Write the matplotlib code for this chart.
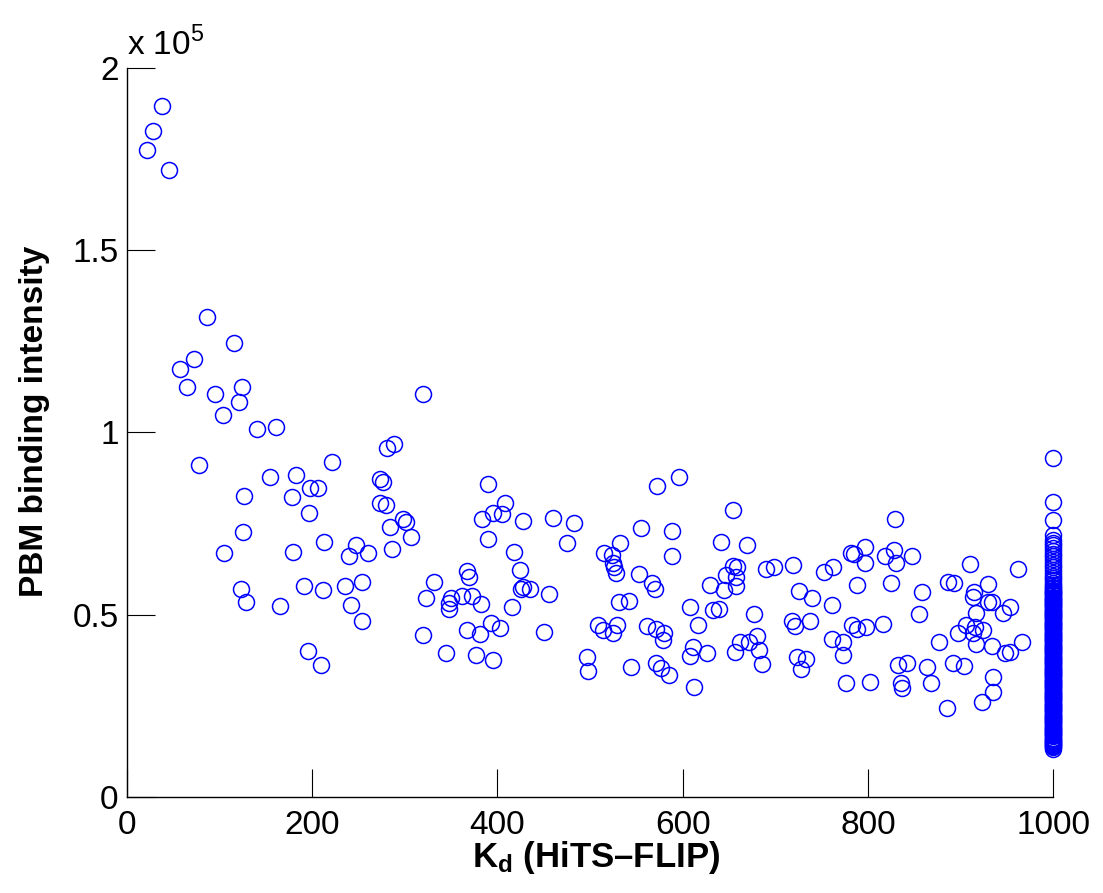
import numpy as np
import matplotlib
matplotlib.use('Agg')
import matplotlib.pyplot as plt
from matplotlib.ticker import FuncFormatter

plt.rcParams['font.family'] = ['Liberation Sans', 'DejaVu Sans']
plt.rcParams['mathtext.fontset'] = 'custom'
plt.rcParams['mathtext.rm'] = 'Liberation Sans'
plt.rcParams['mathtext.bf'] = 'Liberation Sans:bold'

# Kd (HiTS-FLIP) of the scattered points
kd = [21.6, 28.1, 37.8, 45.4, 57.2, 64.8, 72.4, 77.8, 86.4, 95.0,
      103.7, 104.8, 115.6, 121.0, 124.2, 123.1, 126.4, 125.3, 128.5, 140.4,
      154.4, 160.9, 165.2, 178.2, 179.3, 182.5, 191.1, 195.5, 196.5, 197.6,
      206.3, 209.5, 211.7, 212.7, 221.4, 235.4, 239.7, 241.9, 247.3, 253.8,
      253.8, 260.3, 319.6, 280.8, 288.3, 273.2, 276.5, 273.2, 279.7, 284.0,
      298.1, 301.3, 306.7, 286.2, 389.8, 408.2, 395.2, 405.0, 383.4, 427.6,
      389.8, 460.0, 482.7, 475.2, 417.9, 424.4, 367.2, 369.3, 331.5, 427.6,
      425.5, 435.2, 322.9, 349.9, 347.7, 347.7, 361.8, 372.6, 382.3, 455.7,
      415.8, 319.6, 367.2, 381.2, 393.1, 402.8, 450.3, 344.5, 376.9, 395.2,
      496.8, 497.8, 515.1, 523.8, 524.8, 525.9, 528.1, 532.4, 531.3, 542.1,
      508.6, 514.0, 524.8, 529.2, 596.1, 572.3, 654.4, 555.1, 588.5, 588.5,
      641.5, 669.5, 552.9, 567.0, 570.2, 654.4, 658.7, 646.9, 657.7, 629.6,
      644.7, 657.7, 690.0, 698.7, 719.2, 752.7, 762.4, 781.9, 785.1, 788.3,
      725.7, 739.7, 761.3, 677.1, 608.0, 616.6, 632.8, 639.3, 718.1, 721.4,
      737.6, 561.5, 571.3, 579.9, 578.8, 611.2, 608.0, 626.3, 662.0, 671.7,
      680.3, 682.5, 656.6, 685.7, 723.5, 733.2, 727.9, 761.3, 773.2, 773.2,
      776.5, 544.3, 571.3, 576.7, 585.3, 612.3, 782.9, 788.3, 829.4, 797.0,
      797.0, 818.6, 828.3, 830.4, 847.7, 825.0, 858.5, 855.3, 910.4, 962.2,
      886.6, 893.1, 929.8, 914.7, 913.6, 929.8, 934.1, 953.6, 946.0, 916.8,
      906.0, 897.4, 915.8, 924.4, 913.6, 916.8, 934.1, 966.5, 948.2, 953.6,
      876.9, 798.0, 816.4, 802.4, 832.6, 842.3, 863.9, 835.8, 836.9, 868.2,
      892.0, 903.9, 935.2, 935.2, 923.3, 885.5]

# PBM binding intensity (x 1e5) of the scattered points
pbm = [1.775, 1.827, 1.896, 1.720, 1.174, 1.125, 1.202, 0.911, 1.317, 1.106,
       1.048, 0.669, 1.246, 1.084, 1.125, 0.571, 0.826, 0.727, 0.535, 1.010,
       0.878, 1.015, 0.524, 0.823, 0.672, 0.883, 0.579, 0.401, 0.779, 0.848,
       0.848, 0.362, 0.568, 0.700, 0.919, 0.579, 0.661, 0.527, 0.691, 0.483,
       0.590, 0.669, 1.106, 0.957, 0.968, 0.872, 0.864, 0.807, 0.801, 0.741,
       0.763, 0.754, 0.713, 0.680, 0.859, 0.807, 0.779, 0.776, 0.763, 0.757,
       0.708, 0.765, 0.752, 0.697, 0.672, 0.623, 0.620, 0.604, 0.590, 0.576,
       0.571, 0.571, 0.546, 0.546, 0.532, 0.516, 0.551, 0.551, 0.530, 0.557,
       0.521, 0.444, 0.458, 0.447, 0.477, 0.464, 0.453, 0.395, 0.390, 0.376,
       0.384, 0.346, 0.669, 0.664, 0.642, 0.631, 0.615, 0.697, 0.535, 0.538,
       0.472, 0.458, 0.450, 0.472, 0.878, 0.853, 0.787, 0.738, 0.730, 0.661,
       0.700, 0.691, 0.612, 0.587, 0.571, 0.634, 0.631, 0.609, 0.604, 0.582,
       0.568, 0.579, 0.626, 0.631, 0.636, 0.617, 0.631, 0.669, 0.667, 0.582,
       0.565, 0.546, 0.527, 0.502, 0.521, 0.472, 0.513, 0.516, 0.483, 0.469,
       0.483, 0.469, 0.461, 0.450, 0.431, 0.412, 0.387, 0.395, 0.425, 0.425,
       0.442, 0.403, 0.398, 0.365, 0.384, 0.379, 0.351, 0.433, 0.425, 0.390,
       0.313, 0.357, 0.368, 0.354, 0.335, 0.302, 0.472, 0.461, 0.763, 0.686,
       0.642, 0.661, 0.678, 0.642, 0.661, 0.587, 0.562, 0.502, 0.639, 0.625,
       0.590, 0.587, 0.584, 0.562, 0.549, 0.535, 0.535, 0.521, 0.505, 0.505,
       0.472, 0.450, 0.466, 0.458, 0.450, 0.420, 0.414, 0.425, 0.395, 0.398,
       0.425, 0.466, 0.475, 0.316, 0.362, 0.368, 0.357, 0.313, 0.299, 0.313,
       0.368, 0.359, 0.329, 0.288, 0.261, 0.244]

# points capped at Kd = 1000 (x 1e5)
pbm_capped = [0.930, 0.809, 0.760, 0.720, 0.705, 0.697, 0.690, 0.682, 0.675, 0.667,
              0.660, 0.652, 0.645, 0.637, 0.630, 0.622, 0.615, 0.607, 0.600, 0.594,
              0.588, 0.582, 0.577, 0.572,
              0.568, 0.565, 0.562, 0.559, 0.556, 0.553, 0.550, 0.547, 0.544, 0.541,
              0.538, 0.535, 0.532, 0.529, 0.526, 0.523, 0.520, 0.517, 0.514, 0.511,
              0.508, 0.505, 0.502, 0.499, 0.496, 0.493, 0.490, 0.487, 0.484, 0.481,
              0.478, 0.475, 0.472, 0.469, 0.466, 0.463, 0.460, 0.457, 0.454, 0.451,
              0.448, 0.445, 0.442, 0.439, 0.436, 0.433, 0.430, 0.427, 0.424, 0.421,
              0.418, 0.415, 0.412, 0.409, 0.406, 0.403, 0.400, 0.397, 0.394, 0.391,
              0.388, 0.385, 0.382, 0.379, 0.376, 0.373, 0.370, 0.367, 0.364, 0.361,
              0.358, 0.355, 0.352, 0.349, 0.346, 0.343, 0.340, 0.337, 0.334, 0.331,
              0.328, 0.325, 0.322, 0.319, 0.316, 0.313, 0.310, 0.307, 0.304, 0.301,
              0.298, 0.295, 0.292, 0.289, 0.286, 0.283, 0.280, 0.277, 0.274, 0.271,
              0.268, 0.265, 0.262, 0.259, 0.256, 0.253, 0.250, 0.247, 0.244, 0.241,
              0.238, 0.235, 0.232, 0.229, 0.226, 0.223, 0.220, 0.217, 0.214, 0.211,
              0.208, 0.205, 0.202, 0.199, 0.196, 0.193, 0.190, 0.187, 0.184, 0.181,
              0.178, 0.175, 0.172, 0.169, 0.166, 0.163, 0.160, 0.157, 0.154, 0.151,
              0.148, 0.145, 0.142, 0.139, 0.136, 0.133]
kd_cap = 1000

x = np.array(kd + [kd_cap] * len(pbm_capped))
y = np.array(pbm + pbm_capped) * 1e5

fig = plt.figure(figsize=(11.03, 8.93), dpi=100)
ax = fig.add_axes([0.1151, 0.1075, 0.8396, 0.8164])

ax.plot(x, y, 'o', mfc='none', mec=(0, 0, 1), ms=11.5, mew=1.1, clip_on=False)

ax.set_xlim(0, 1000)
ax.set_ylim(0, 2e5)
ax.set_xticks([0, 200, 400, 600, 800, 1000])
ax.set_yticks([0, 0.5e5, 1e5, 1.5e5, 2e5])
ax.yaxis.set_major_formatter(FuncFormatter(lambda v, p: '%g' % (v / 1e5)))

for s in ['top', 'right']:
    ax.spines[s].set_visible(False)
for s in ['left', 'bottom']:
    ax.spines[s].set_linewidth(1.0)

ax.tick_params(direction='in', length=20, width=0.8, labelsize=24)
ax.tick_params(axis='x', pad=9)
ax.tick_params(axis='y', pad=6)

ax.text(0, 1.008, r'x 10$^{5}$', transform=ax.transAxes, fontsize=24,
        ha='left', va='bottom')

ax.set_xlabel(r'$\mathbf{K_d}$ (HiTS–FLIP)', fontsize=25, fontweight='bold')
ax.xaxis.set_label_coords(0.507, -0.058)

ax.set_ylabel('PBM binding intensity', fontsize=24, fontweight='bold')
ax.yaxis.set_label_coords(-0.083, 0.516)

fig.savefig('out.png', dpi=100)
